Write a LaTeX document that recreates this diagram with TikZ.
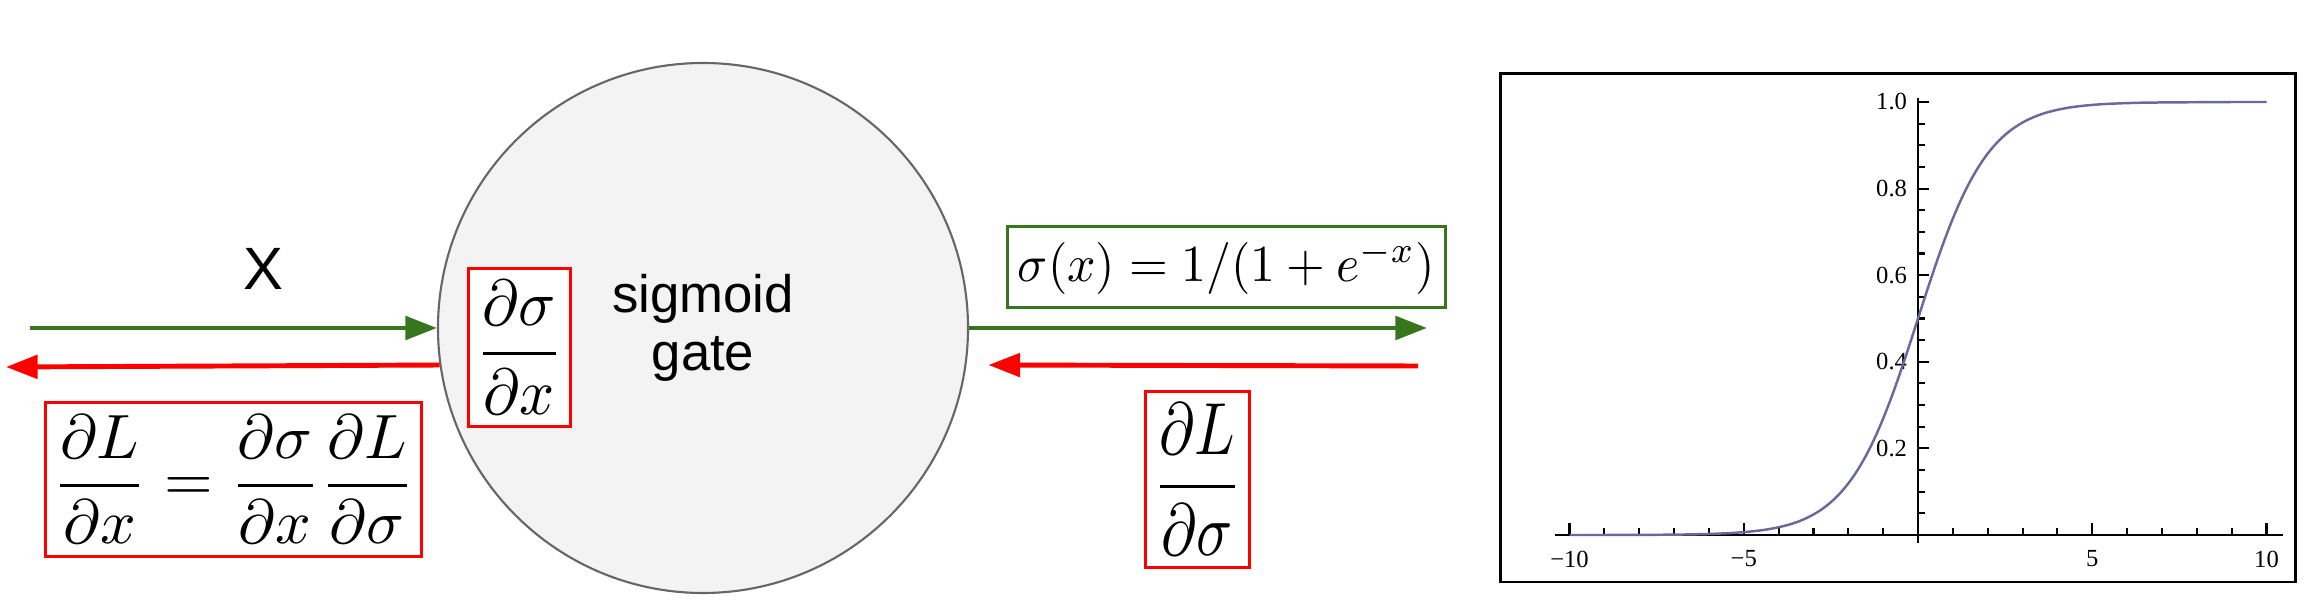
\documentclass[tikz,border=0pt]{standalone}
\usepackage{amsmath}
\usepackage{graphicx}
\usepackage{fontspec}
\newfontfamily\arialfont{Liberation Sans}
\newfontfamily\plotfont{Liberation Serif}
\usetikzlibrary{arrows.meta,positioning}
\definecolor{fwdgreen}{RGB}{56,118,29}
\definecolor{gatefill}{RGB}{243,243,243}
\definecolor{gateline}{RGB}{102,102,102}
\definecolor{curveblue}{RGB}{105,105,155}

\begin{document}
\begin{tikzpicture}[
  redbox/.style={draw=red, line width=0.8pt, fill=white, inner xsep=2pt, inner ysep=3.5pt},
  greenbox/.style={draw=fwdgreen, line width=0.8pt, fill=white, inner xsep=3pt, inner ysep=3.7pt},
  fwd/.style={draw=fwdgreen, line width=1.4pt, -{Triangle[length=9pt,width=6.6pt]}},
  bwd/.style={draw=red, line width=1.4pt, -{Triangle[length=9pt,width=6.6pt]}},
  tick/.style={line width=0.6pt}
]
\useasboundingbox (0,0) rectangle (23.18,-6.16);

% gate
\node (gate) [circle, draw=gateline, fill=gatefill, line width=0.6pt, minimum size=5.3cm, inner sep=0,
  align=center, font=\arialfont\fontsize{15}{16.5}\selectfont] at (7.03,-3.28) {sigmoid\\gate};
\node (local) [redbox, right=0.3cm of gate.west, yshift=-0.195cm]
  {\scalebox{1.75}[1.85]{$\dfrac{\partial\sigma}{\partial x}$}};

% input side
\coordinate (inL) at (0.30,-3.28);
\coordinate (outL) at (0.06,-3.67);
\draw[fwd] (inL) -- (gate.west);
\draw[bwd] (gate.188.5) -- (outL);
\node (x) [font=\arialfont\fontsize{17}{20}\selectfont] at (2.63,-2.685) {X};
\node (chain) [redbox] at (2.335,-4.795)
  {\scalebox{1.78}{$\dfrac{\partial L}{\partial x} = \dfrac{\partial\sigma}{\partial x}\dfrac{\partial L}{\partial\sigma}$}};

% output side
\coordinate (outR) at (14.27,-3.28);
\coordinate (inR) at (14.18,-3.66);
\draw[fwd] (gate.east) -- (outR);
\draw[bwd] (inR) -- ([xshift=0.22cm]gate.-8.5);
\node (fn) [greenbox] at (12.265,-2.67) {\scalebox{1.416}[1.48]{$\sigma(x) = 1/(1+e^{-x})$}};
\node (upstream) [redbox] at (11.975,-4.795)
  {\scalebox{1.7}[2.1]{$\dfrac{\partial L}{\partial\sigma}$}};

% plot of the sigmoid
\draw[line width=0.85pt] (15.00,-0.74) rectangle (22.95,-5.82);
\begin{scope}[shift={(19.18,-5.35)}, x=0.3485cm, y=4.33cm, font=\plotfont\fontsize{7}{8}\selectfont]
\draw[tick] (-10.42,0) -- (10.47,0);
\draw[tick] (0,-0.018) -- (0,1.01);
\foreach \t in {-10,...,10}
  \draw[tick] (\t,0) -- ++(0,0.07cm);
\foreach \t in {-10,-5,5,10}
  \draw[tick] (\t,0) -- ++(0,0.12cm);
\foreach \t/\lab in {-10/−10,-5/−5,5/5,10/10}
  \node[anchor=north, inner sep=0, yshift=-0.15cm] at (\t,0) {\lab};
\foreach \k in {1,...,20}
  \draw[tick] (0,\k/20) -- ++(0.07cm,0);
\foreach \v in {0.2,0.4,0.6,0.8,1.0}
  \draw[tick] (0,\v) -- ++(0.11cm,0) node[anchor=east, inner sep=0, xshift=-0.21cm] {\v};
\draw[curveblue, line width=0.7pt] plot[domain=-10:0, samples=61, smooth] (\x,{exp(\x)/(1+exp(\x))})
  -- plot[domain=0:10, samples=61, smooth] (\x,{1/(1+exp(-\x))});
\end{scope}
\end{tikzpicture}
\end{document}
